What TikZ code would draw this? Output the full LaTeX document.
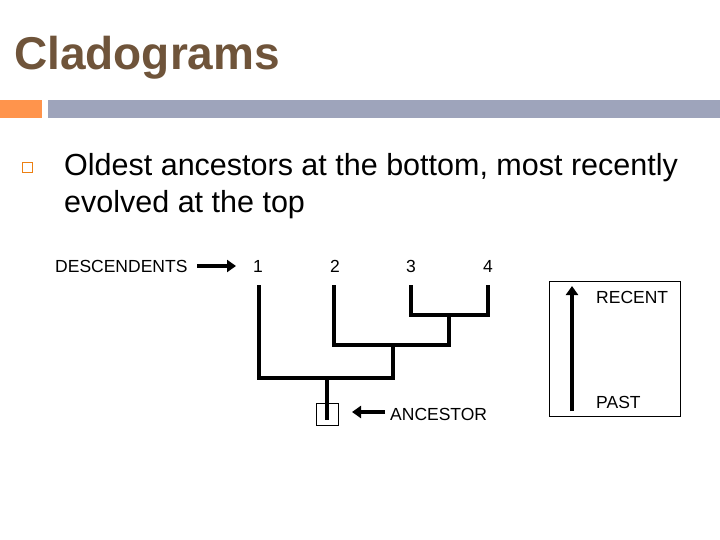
\documentclass[tikz,border=0pt]{standalone}
\usepackage{fontspec}
\setmainfont{Liberation Sans}
\usetikzlibrary{arrows.meta}
\begin{document}
\begin{tikzpicture}[x=1pt,y=-1pt,
  br/.style={line width=3.5pt},
  lab/.style={font=\fontsize{17.5}{17.5}\selectfont,inner sep=0pt},
  arr/.style={line width=3.5pt,-{Triangle[length=9pt,width=12pt]}}]
\useasboundingbox (0,0) rectangle (720,540);
\node[anchor=west,inner sep=0pt,text=black!45!brown!75!gray,font=\bfseries\fontsize{46}{46}\selectfont] (title) at (14,58) {Cladograms};
\fill[orange!80!red!70!white] (0,100) rectangle (42,118);
\fill[cyan!40!blue!30!gray!70] (48,100) rectangle (720,118);
\draw[orange!70!brown,line width=1pt] (22,163) rectangle (32,173);
\node[anchor=north west,align=left,inner sep=0pt,font=\fontsize{30.5}{37}\selectfont] (txt) at (64,153) {Oldest ancestors at the bottom, most recently\\evolved at the top};
\node[lab,anchor=west] (desc) at (55,266) {DESCENDENTS};
\node[lab] (n1) at (258,266) {1};
\node[lab] (n2) at (335,266) {2};
\node[lab] (n3) at (411,266) {3};
\node[lab] (n4) at (488,266) {4};
\coordinate (da) at (197,266); \coordinate (db) at (236,266);
\draw[arr] (da) -- (db);
\draw[br] (259,285) |- (327,378) -- (393,378) |- (393,345);
\draw[br] (327,378) -- (327,420);
\draw[br] (334,285) |- (449,345) -- (449,315);
\draw[br] (411,285) |- (488,315) -- (488,285);
\draw[line width=1pt] (316,403) rectangle (338,425);
\node[lab,anchor=west] (anc) at (390,414) {ANCESTOR};
\coordinate (aa) at (385,412); \coordinate (ab) at (352,412);
\draw[arr] (aa) -- (ab);
\node[draw,line width=1pt,minimum width=131pt,minimum height=135pt,anchor=north west] (box) at (549,281) {};
\coordinate (pa) at (572,411); \coordinate (pb) at (572,286);
\draw[arr] (pa) -- (pb);
\node[lab,anchor=west] (rec) at (596,297) {RECENT};
\node[lab,anchor=west] (past) at (596,402) {PAST};
\end{tikzpicture}
\end{document}
